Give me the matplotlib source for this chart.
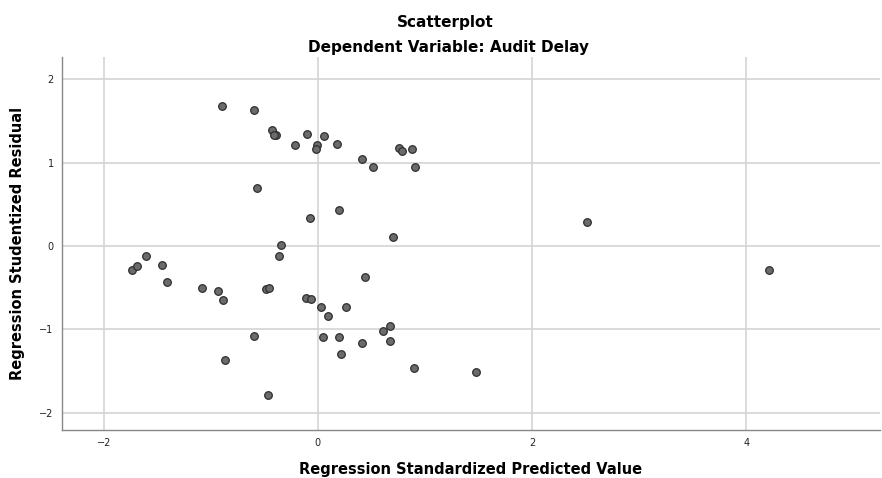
import matplotlib.pyplot as plt

# Valores (predicho estandarizado, residuo studentizado)
pred_std = [-0.897, -0.595, -0.431, -0.394, -0.41, -0.215, -0.106, -0.012, -0.019,
            0.056, 0.178, 0.408, 0.517, 0.760, 0.782, 0.879, 0.907, -0.570, -0.075,
            0.199, 0.698, -0.349, -0.361, 2.511, 4.212,
            -1.732, -1.685, -1.601, -1.455, -1.405, -1.087, -0.935, -0.885, -0.489,
            -0.455, -0.112, -0.068, 0.028, 0.096, 0.259, 0.442, -0.595, 0.044, 0.196,
            0.218, -0.863, -0.467, 0.414, 0.604, 0.673, 0.673, 0.900, 1.480]
resid_stud = [1.677, 1.628, 1.396, 1.332, 1.335, 1.212, 1.344, 1.208, 1.160,
              1.320, 1.227, 1.043, 0.951, 1.179, 1.143, 1.160, 0.943, 0.691, 0.342,
              0.427, 0.102, 0.015, -0.119, 0.286, -0.287,
              -0.287, -0.235, -0.119, -0.231, -0.435, -0.499, -0.543, -0.643, -0.511,
              -0.503, -0.623, -0.631, -0.728, -0.836, -0.731, -0.371, -1.080, -1.088, -1.092,
              -1.292, -1.365, -1.785, -1.160, -1.016, -0.960, -1.136, -1.460, -1.517]

xticks = [-2, 0, 2, 4]
yticks = [-2, -1, 0, 1, 2]

fig = plt.figure(figsize=(8.82, 4.78), dpi=100)
ax = fig.add_axes([0.0703, 0.1004, 0.9274, 0.7804])

ax.scatter(pred_std, resid_stud, s=30, c='#6b6b6b', edgecolors='#2e2e2e',
           linewidths=0.9, zorder=3)

ax.set_xlim(-2.39, 5.25)
ax.set_ylim(-2.21, 2.27)
ax.set_xticks(xticks)
ax.set_yticks(yticks)
ax.grid(True, color='#d4d4d4', linewidth=1.2)
ax.set_axisbelow(True)
ax.tick_params(axis='both', length=0, labelsize=7, pad=6, colors='#222222')

for lado in ['top', 'right']:
    ax.spines[lado].set_visible(False)
for lado in ['left', 'bottom']:
    ax.spines[lado].set_color('#888888')
    ax.spines[lado].set_linewidth(1.0)

ax.set_xlabel("Regression Standardized Predicted Value", fontsize=10.5,
              fontweight='bold', labelpad=10)
ax.set_ylabel("Regression Studentized Residual", fontsize=10.5,
              fontweight='bold', labelpad=10)

fig.text(0.505, 0.953, "Scatterplot", ha='center', va='center',
         fontsize=11, fontweight='bold')
fig.text(0.509, 0.901, "Dependent Variable: Audit Delay", ha='center',
         va='center', fontsize=11, fontweight='bold')

fig.savefig('out.png')
